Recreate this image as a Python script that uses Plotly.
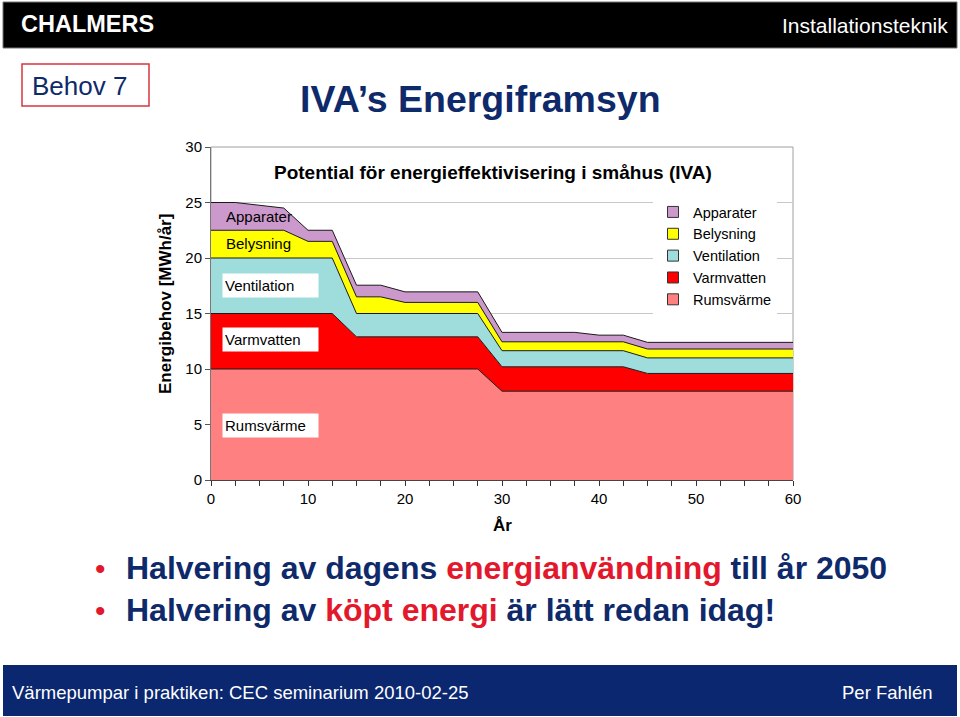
import plotly.graph_objects as go

# ---------------- data ----------------
years = [0, 2.5, 7.5, 10, 12.5, 15, 17.5, 20, 27.5, 30, 37.5, 40, 42.5, 45, 60]
rumsvarme = [10, 10, 10, 10, 10, 10, 10, 10, 10, 8, 8, 8, 8, 8, 8]
varmvatten = [5, 5, 5, 5, 5, 2.9, 2.9, 2.9, 2.9, 2.2, 2.2, 2.2, 2.2, 1.6, 1.6]
ventilation = [5, 5, 5, 5, 5, 2.1, 2.1, 2.1, 2.1, 1.45, 1.45, 1.45, 1.45, 1.4, 1.4]
belysning = [2.5, 2.5, 2.5, 1.5, 1.5, 1.5, 1.5, 1.0, 1.0, 0.8, 0.8, 0.8, 0.8, 0.8, 0.8]
apparater = [2.5, 2.5, 2.0, 1.0, 1.0, 1.05, 1.05, 0.95, 0.95, 0.85, 0.85, 0.6, 0.6, 0.6, 0.6]

series_names = ["Rumsvärme", "Varmvatten", "Ventilation", "Belysning", "Apparater"]
series_values = [rumsvarme, varmvatten, ventilation, belysning, apparater]
series_colors = ["#FF8080", "#FF0000", "#9FDCDC", "#FFFF00", "#CC99CC"]

x_ticks = [0, 10, 20, 30, 40, 50, 60]
y_ticks = [0, 5, 10, 15, 20, 25, 30]

# ---------------- layout geometry (pixels) ----------------
W, H = 960, 717
PL, PR, PT, PB = 211, 793, 147, 480  # plot area


def px(x):
    return (x - PL) / (PR - PL)


def py(y):
    return (PB - y) / (PB - PT)


NAVY = "#0F2A6B"
RED = "#E3182D"
FONT = "Liberation Sans, Arial, sans-serif"

fig = go.Figure()
for name, vals, col in zip(series_names, series_values, series_colors):
    fig.add_trace(go.Scatter(
        x=years, y=vals, name=name, mode="lines", stackgroup="one",
        line=dict(color="#1a1a1a", width=1), fillcolor=col, showlegend=False,
    ))
# legend swatches (square keys, like the original)
for name, col in zip(series_names, series_colors):
    fig.add_trace(go.Scatter(
        x=[None], y=[None], name=name, mode="markers",
        marker=dict(symbol="square", size=11, color=col, line=dict(color="#333333", width=1)),
    ))

shapes = [
    # header bar
    dict(type="rect", xref="paper", yref="paper", x0=px(3), x1=px(957), y0=py(2), y1=py(48),
         fillcolor="black", line=dict(color="#777777", width=1), layer="above"),
    # footer bar
    dict(type="rect", xref="paper", yref="paper", x0=px(3), x1=px(957), y0=py(665), y1=py(716),
         fillcolor="#0A2770", line=dict(color="#0A2770", width=0), layer="above"),
    # "Behov 7" box
    dict(type="rect", xref="paper", yref="paper", x0=px(22), x1=px(149), y0=py(64), y1=py(106),
         fillcolor="white", line=dict(color="#D9343F", width=1.5), layer="above"),
]

annotations = [
    dict(text="<b>CHALMERS</b>", x=px(19), y=py(24), xanchor="left", yanchor="middle",
         font=dict(family=FONT, size=23.5, color="white")),
    dict(text="Installationsteknik", x=px(950), y=py(25), xanchor="right", yanchor="middle",
         font=dict(family=FONT, size=21, color="white")),
    dict(text="Behov 7", x=px(30), y=py(86), xanchor="left", yanchor="middle",
         font=dict(family=FONT, size=26, color=NAVY)),
    dict(text="<b>IVA’s Energiframsyn</b>", x=px(480), y=py(99), xanchor="center", yanchor="middle",
         font=dict(family=FONT, size=37.5, color=NAVY)),
    dict(text="<b>Potential för energieffektivisering i småhus (IVA)</b>", x=px(493), y=py(172),
         xanchor="center", yanchor="middle", font=dict(family=FONT, size=19, color="black")),
    dict(text="<b>Energibehov [MWh/år]</b>", x=px(165), y=py(304), xanchor="center", yanchor="middle",
         textangle=-90, font=dict(family=FONT, size=17, color="black")),
    dict(text="<b>År</b>", x=px(502), y=py(525), xanchor="center", yanchor="middle",
         font=dict(family=FONT, size=17, color="black")),
    # in-chart labels
    dict(text="Apparater", x=1.3, y=23.7, xref="x", yref="y", xanchor="left", yanchor="middle",
         font=dict(family=FONT, size=15, color="black")),
    dict(text="Belysning", x=1.3, y=21.3, xref="x", yref="y", xanchor="left", yanchor="middle",
         font=dict(family=FONT, size=15, color="black")),
    dict(text="Ventilation", x=1.1, y=17.5, xref="x", yref="y", xanchor="left", yanchor="middle",
         width=91, height=19, align="left", bgcolor="white", borderpad=2,
         font=dict(family=FONT, size=15, color="black")),
    dict(text="Varmvatten", x=1.1, y=12.7, xref="x", yref="y", xanchor="left", yanchor="middle",
         width=91, height=19, align="left", bgcolor="white", borderpad=2,
         font=dict(family=FONT, size=15, color="black")),
    dict(text="Rumsvärme", x=1.1, y=4.9, xref="x", yref="y", xanchor="left", yanchor="middle",
         width=91, height=19, align="left", bgcolor="white", borderpad=2,
         font=dict(family=FONT, size=15, color="black")),
    # bullets
    dict(text="•", x=px(93), y=py(568), xanchor="left", yanchor="middle",
         font=dict(family=FONT, size=30, color=RED)),
    dict(text="•", x=px(93), y=py(610), xanchor="left", yanchor="middle",
         font=dict(family=FONT, size=30, color=RED)),
    dict(text=f"<b>Halvering av dagens <span style='color:{RED}'>energianvändning</span> till år 2050</b>",
         x=px(124), y=py(568), xanchor="left", yanchor="middle",
         font=dict(family=FONT, size=32, color=NAVY)),
    dict(text=f"<b>Halvering av <span style='color:{RED}'>köpt energi</span> är lätt redan idag!</b>",
         x=px(124), y=py(610), xanchor="left", yanchor="middle",
         font=dict(family=FONT, size=32, color=NAVY)),
    # footer
    dict(text="Värmepumpar i praktiken: CEC seminarium 2010-02-25", x=px(10), y=py(692),
         xanchor="left", yanchor="middle", font=dict(family=FONT, size=18.5, color="white")),
    dict(text="Per Fahlén", x=px(935), y=py(692), xanchor="right", yanchor="middle",
         font=dict(family=FONT, size=18.5, color="white")),
]
for a in annotations:
    a.setdefault("xref", "paper")
    a.setdefault("yref", "paper")
    a.setdefault("showarrow", False)

fig.update_layout(
    width=W, height=H, autosize=False,
    margin=dict(l=PL, r=W - PR, t=PT, b=H - PB, pad=0),
    paper_bgcolor="white", plot_bgcolor="white",
    font=dict(family=FONT, size=15, color="black"),
    showlegend=True,
    legend=dict(x=px(653), y=py(196), xanchor="left", yanchor="top", traceorder="reversed",
                bgcolor="white", borderwidth=0, font=dict(family=FONT, size=14.5, color="black"),
                itemwidth=30),
    shapes=shapes, annotations=annotations,
    hovermode=False,
)
fig.update_xaxes(range=[0, 60], tickvals=x_ticks, ticks="outside", ticklen=5, tickcolor="#333",
                 showgrid=False, zeroline=False, showline=True, linecolor="#444", linewidth=1,
                 mirror=False, tickfont=dict(size=15),
                 minor=dict(dtick=2.5, ticks="outside", ticklen=5, tickcolor="#333", showgrid=False))
fig.update_yaxes(range=[0, 30], tickvals=y_ticks, ticks="outside", ticklen=5, tickcolor="#555",
                 showgrid=True, gridcolor="#C8C8C8", gridwidth=1, zeroline=False,
                 showline=True, linecolor="#777", linewidth=1, tickfont=dict(size=15))
# light frame on top / right
fig.add_shape(type="rect", xref="paper", yref="paper", x0=0, x1=1, y0=0, y1=1,
              line=dict(color="#A0A0A0", width=1), fillcolor="rgba(0,0,0,0)", layer="below")

fig.write_html("out.html", config={"displayModeBar": False},
               post_script="document.body.style.margin='0px';")
